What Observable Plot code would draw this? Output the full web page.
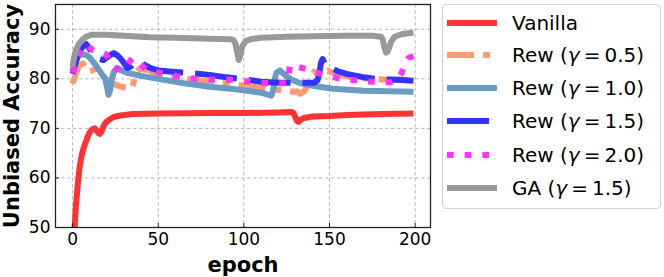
<!DOCTYPE html>
<html>
<head>
<meta charset="utf-8">
<script src="https://cdn.jsdelivr.net/npm/d3@7"></script>
<script src="https://cdn.jsdelivr.net/npm/@observablehq/plot@0.6"></script>
<style>
  html, body { margin: 0; padding: 0; background: #fff; }
  #wrap { position: relative; width: 664px; height: 277px; font-family: "DejaVu Sans", sans-serif; }
  #legend { position: absolute; left: 442px; top: 4px; width: 219px; height: 205px; border: 1px solid #d0d0d0; border-radius: 4px; background: #fff; box-sizing: border-box; }
</style>
</head>
<body>
<div id="wrap"><div id="chart"></div><div id="legend"></div></div>
<script>
// ---- data ----
const seriesNames = ["Vanilla", "Rew (γ = 0.5)", "Rew (γ = 1.0)", "Rew (γ = 1.5)", "Rew (γ = 2.0)", "GA (γ = 1.5)"];
const seriesColors = ["#ff3333", "#ff9973", "#6b9bc3", "#3333ff", "#ff33ff", "#999999"];
const seriesDash = [null, "27,9,7,9", null, "42,12", "6.7,11", null];

const xTicks = [0, 50, 100, 150, 200];
const yTicks = [50, 60, 70, 80, 90];

const vanillaEpoch = [0,1,2,3,4,5,6,7,8,9,10,11,12,13,14,15,16,17,18,19,20,22,24,28,35,50,80,100,120,128,129,130,131,132,133,135,140,150,160,180,199];
const vanillaAcc   = [44,49,54.5,58.5,61.8,64,65.5,66.6,67.5,68.5,69.2,69.6,69.9,70,69.6,69.1,68.9,69.4,70.4,71,71.4,71.9,72.3,72.6,72.9,73.0,73.1,73.1,73.2,73.3,73.1,72.3,71.5,71.3,71.7,72.1,72.4,72.5,72.7,72.9,73.0];

const rew05Epoch = [0,2,4,6,8,9,11,14,16,19,22,26,30,35,36,37,39,44,50,60,75,90,107,120,129,131,133,135,137,139,141,144,147,149,154,165,175,185,199];
const rew05Acc   = [79,81,82.8,83.1,82,81.4,81.6,82.1,81.5,80.1,79.3,78.7,78.3,78.1,80,81.4,82,81.8,81,80.3,79.6,79.1,78.3,77.8,77.4,77.5,77,77.4,78.5,80.5,81.4,81,81.2,81.6,80.9,80.2,80.0,79.8,79.8];

const rew10Epoch = [0,1,3,5,8,10,13,16,19,20,21,22,23,24,26,28,32,40,50,65,80,95,110,116,117,118,119,121,124,128,133,142,152,170,185,199];
const rew10Acc   = [81.5,83,84.5,85,84.8,84.3,83,81.5,80,78.5,76.8,77.8,80,81.3,82.2,81.8,81.2,80.6,80.0,79.1,78.4,77.9,77.2,76.6,77.5,79.8,81.2,81.7,80.8,79.8,79.1,78.5,78.0,77.6,77.5,77.4];

const rew15Epoch = [0,2,4,6,8,10,12,14,16,18,20,22,24,26,28,30,32,34,36,39,42,46,50,60,70,80,90,100,110,120,130,141,143,144,145,146,147,149,151,155,160,170,180,190,199];
const rew15Acc   = [81,83.5,85.5,86.5,87,86,85.2,84.6,84,83.8,84.3,84.8,85.2,84.8,84.1,83.2,82.2,82.5,83.2,83.4,82.8,82.1,81.7,81.4,81.1,80.8,80.3,79.9,79.4,79.2,79.2,79.2,79.7,81,83.2,84,83.2,82.4,82.2,81.5,81,80.3,79.9,79.8,79.6];

const rew20Epoch = [0,2,4,6,8,10,12,14,17,19,21,23,25,28,30,32,34,35,37,40,43,50,63,75,85,95,104,114,125,126,127,130,135,140,144,150,155,165,175,186,189,192,194,196,199];
const rew20Acc   = [81.2,83.5,85.2,86.3,87,86.3,85.7,85.5,85.3,85.1,84.2,82.8,82.1,81.8,81.8,82.8,83.8,84.2,83.8,82.8,81.9,81.3,80.4,79.9,79.8,79.8,79.4,79.1,79.1,80.5,82.8,82.6,82.1,81.6,81.1,80.6,80.1,79.7,79.4,79.3,79.6,81.1,83,84.2,84.6];

const gaEpoch = [0,1,2,3,4,6,8,11,20,30,45,60,80,92,94,95,96,97,98,99,101,104,110,125,140,160,175,180,181,182,183,184,186,188,192,196,199];
const gaAcc   = [82.5,84.5,85.8,86.6,87.2,88.0,88.5,88.9,88.9,88.7,88.4,88.3,88.1,88.0,87.8,87.2,85.5,83.8,84.8,86.5,87.6,88.0,88.3,88.5,88.6,88.7,88.7,88.5,88.0,86.5,85.3,85.5,87.5,88.5,89.0,89.2,89.3];

const epochs = [vanillaEpoch, rew05Epoch, rew10Epoch, rew15Epoch, rew20Epoch, gaEpoch];
const accs = [vanillaAcc, rew05Acc, rew10Acc, rew15Acc, rew20Acc, gaAcc];

// ---- build table ----
const tables = epochs.map((ep, i) => ep.map((e, j) => ({epoch: e, acc: accs[i][j], series: seriesNames[i]})));

const FONT = '"DejaVu Sans", sans-serif';

const lineMarks = tables.map((t, i) => Plot.line(t, {
  x: "epoch", y: "acc",
  stroke: seriesColors[i],
  strokeWidth: 6,
  strokeDasharray: seriesDash[i] || undefined,
  strokeLinejoin: "round",
  strokeLinecap: "butt",
  clip: true
}));

const chart = Plot.plot({
  width: 432,
  height: 277,
  marginLeft: 55,
  marginRight: 2,
  marginTop: 4,
  marginBottom: 50,
  style: {fontFamily: FONT, fontSize: "17px", color: "#000", background: "#fff", overflow: "visible"},
  x: {domain: [-9.95, 208.95]},
  y: {domain: [50, 95]},
  marks: [
    Plot.gridX(xTicks, {stroke: "#b0b0b0", strokeOpacity: 1, strokeWidth: 0.9, strokeDasharray: "3.5,2.5"}),
    Plot.gridY(yTicks, {stroke: "#b0b0b0", strokeOpacity: 1, strokeWidth: 0.9, strokeDasharray: "3.5,2.5"}),
    ...lineMarks,
    Plot.axisX(xTicks, {tickSize: 0, tickPadding: 5, label: null, fontSize: 17}),
    Plot.axisY(yTicks, {tickSize: 0, tickPadding: 5, label: null, fontSize: 17}),
    Plot.axisX(xTicks, {tickSize: 4, dy: -4, tickFormat: () => "", label: null, stroke: "#222"}),
    Plot.axisY(yTicks, {tickSize: 4, dx: 4, tickFormat: () => "", label: null, stroke: "#222"}),
    Plot.frame({stroke: "#222", strokeWidth: 1.3}),
    Plot.text(["epoch"], {frameAnchor: "bottom", dy: 38, lineAnchor: "middle", textAnchor: "middle", text: d => d, fontWeight: "bold", fontSize: 21}),
    Plot.text(["Unbiased Accuracy"], {frameAnchor: "left", dx: -43, rotate: -90, textAnchor: "middle", lineAnchor: "middle", text: d => d, fontWeight: "bold", fontSize: 21})
  ]
});
document.getElementById("chart").appendChild(chart);

// ---- legend ----
const legend = d3.select("#legend").append("svg").attr("width", 217).attr("height", 203)
  .style("font-family", FONT);
const rowY = [18, 50, 83, 116, 150, 183];
seriesNames.forEach((name, i) => {
  const g = legend.append("g").attr("transform", `translate(0,${rowY[i]})`);
  g.append("line").attr("x1", 4).attr("x2", 54).attr("y1", 0).attr("y2", 0)
    .attr("stroke", seriesColors[i]).attr("stroke-width", 6)
    .attr("stroke-dasharray", seriesDash[i] || null);
  const t = g.append("text").attr("x", 69).attr("y", 0).attr("dy", "0.35em").attr("font-size", 20).attr("fill", "#000");
  const m = name.match(/^(.*\()γ = (.*)$/);
  if (m) {
    t.append("tspan").text(m[1]);
    t.append("tspan").attr("font-style", "italic").text("γ");
    t.append("tspan").attr("dx", 4).text("=");
    t.append("tspan").attr("dx", 4).text(m[2]);
  } else {
    t.text(name);
  }
});
</script>
</body>
</html>
